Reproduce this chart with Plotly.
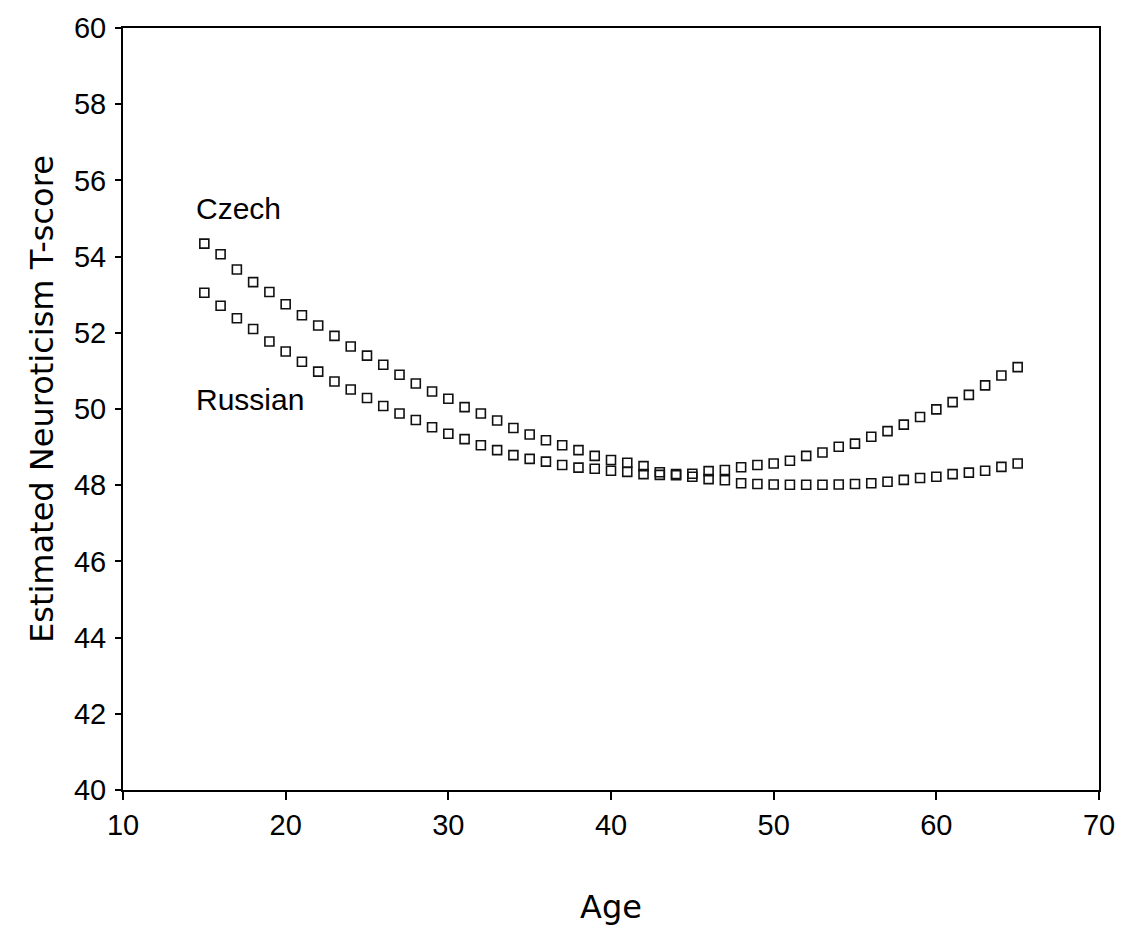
import plotly.graph_objects as go

ages = list(range(15, 66))

czech = [54.34, 54.06, 53.66, 53.33, 53.07, 52.75, 52.46, 52.19, 51.92, 51.64,
         51.40, 51.16, 50.90, 50.67, 50.46, 50.27, 50.05, 49.88, 49.70, 49.50,
         49.33, 49.18, 49.05, 48.92, 48.77, 48.66, 48.59, 48.50, 48.34, 48.29,
         48.30, 48.37, 48.40, 48.47, 48.53, 48.57, 48.64, 48.77, 48.86, 49.01,
         49.09, 49.27, 49.42, 49.59, 49.79, 49.99, 50.18, 50.37, 50.62, 50.88,
         51.10]

russian = [53.05, 52.71, 52.38, 52.10, 51.77, 51.51, 51.24, 50.98, 50.72, 50.51,
           50.29, 50.08, 49.88, 49.71, 49.52, 49.35, 49.21, 49.05, 48.92, 48.79,
           48.69, 48.62, 48.53, 48.46, 48.43, 48.38, 48.35, 48.29, 48.27, 48.26,
           48.22, 48.16, 48.13, 48.05, 48.03, 48.02, 48.01, 48.01, 48.01, 48.02,
           48.03, 48.05, 48.09, 48.14, 48.19, 48.22, 48.29, 48.33, 48.38, 48.48,
           48.57]

x_ticks = [10, 20, 30, 40, 50, 60, 70]
y_ticks = [40, 42, 44, 46, 48, 50, 52, 54, 56, 58, 60]

labels = [("Czech", 14.35, 55.25), ("Russian", 14.35, 50.25)]

ARIAL = "Liberation Sans, Arial, sans-serif"
TITLE_FONT = "DejaVu Sans, sans-serif"

marker = dict(symbol="square-open", size=9, color="#111111", line=dict(width=1.6, color="#111111"))

fig = go.Figure()
fig.add_trace(go.Scatter(x=ages, y=czech, mode="markers", marker=marker, name="Czech", showlegend=False))
fig.add_trace(go.Scatter(x=ages, y=russian, mode="markers", marker=marker, name="Russian", showlegend=False))

for text, lx, ly in labels:
    fig.add_annotation(x=lx, y=ly, xref="x", yref="y", text=text, showarrow=False,
                       xanchor="left", yanchor="middle",
                       font=dict(family=ARIAL, size=30, color="#000000"))

# axis titles
fig.add_annotation(x=0.5, y=0, xref="paper", yref="paper", text="Age", showarrow=False,
                   xanchor="center", yanchor="middle", yshift=-117,
                   font=dict(family=TITLE_FONT, size=32, color="#000000"))
fig.add_annotation(x=0, y=0.5, xref="paper", yref="paper", text="Estimated Neuroticism T-score",
                   showarrow=False, textangle=-90, xanchor="center", yanchor="middle",
                   xshift=-81, yshift=10,
                   font=dict(family=TITLE_FONT, size=32, color="#000000"))

axis_common = dict(showgrid=False, zeroline=False, showline=True, linecolor="#000000",
                   linewidth=2, mirror=True, ticks="outside", tickcolor="#000000",
                   tickwidth=1.5, tickfont=dict(family=ARIAL, size=29, color="#000000"))

fig.update_xaxes(range=[10, 70], tickvals=x_ticks, ticklen=8, **axis_common)
fig.update_yaxes(range=[40, 60], tickvals=y_ticks, ticklen=6, ticklabelstandoff=3, **axis_common)

fig.update_layout(width=1127, height=928, margin=dict(l=123, r=19, t=24, b=138),
                  plot_bgcolor="#ffffff", paper_bgcolor="#ffffff")

fig.write_html("out.html",
               post_script="document.body.style.margin='0';document.body.style.overflow='hidden';")
